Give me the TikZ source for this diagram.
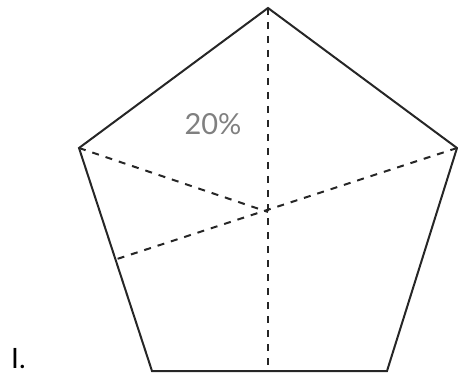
\documentclass[tikz,border=0pt]{standalone}
\usepackage{fontspec}
\setmainfont{Lato}
\usetikzlibrary{calc}
\begin{document}
\begin{tikzpicture}[x=1pt,y=-1pt,
  edge/.style={line width=2pt, line join=miter, draw=black!85},
  dashline/.style={line width=2pt, draw=black!85, dash pattern=on 7pt off 7pt}]
\useasboundingbox (0,0) rectangle (458,377);
\coordinate (T) at (268,8);
\coordinate (R) at (457,148);
\coordinate (BR) at (387,371);
\coordinate (BL) at (152,371);
\coordinate (L) at (79,148);
\coordinate (C) at (268,212);
\coordinate (BM) at (268,371);
\coordinate (LM) at ($(L)!0.5!(BL)$);
\draw[dashline] (T) -- (BM);
\draw[dashline] (R) -- (LM);
\draw[dashline] (L) -- (C);
\draw[edge] (T) -- (R) -- (BR) -- (BL) -- (L) -- cycle;
\node[text=gray, font=\fontsize{29}{32}\selectfont, inner sep=0pt] (pct) at (213,124) {20\%};
\node[font=\fontsize{28}{30}\selectfont, inner sep=0pt, anchor=base west] (lab) at (11,368) {I.};
\end{tikzpicture}
\end{document}
